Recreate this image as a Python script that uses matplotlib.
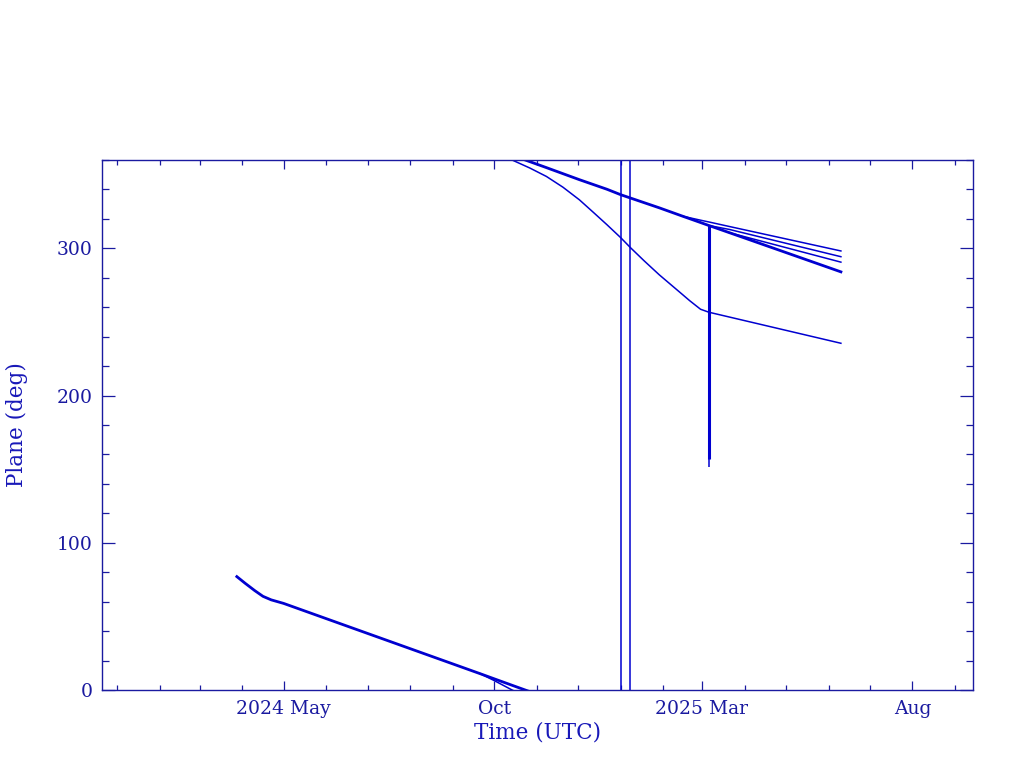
import matplotlib
matplotlib.use("Agg")
import matplotlib.pyplot as plt
import matplotlib.dates as mdates
import matplotlib.ticker as mticker
import numpy as np

# orbital plane of each object, unwrapped (values < 0 wrap to +360)
main_dates = ["2024-03-28", "2024-04-03", "2024-04-10", "2024-04-16", "2024-04-22",
              "2024-05-01", "2024-09-21", "2024-10-01", "2024-10-14", "2024-11-08",
              "2024-12-02", "2024-12-22", "2025-01-01", "2025-01-29", "2025-02-15",
              "2025-02-28", "2025-03-06", "2025-03-21", "2025-06-10"]
main_plane = [77.0, 72.5, 67.5, 63.6, 61.2, 58.8, 11.0, 7.6, 3.2, -5.2, -13.4,
              -19.9, -23.6, -32.5, -38.2, -42.5, -44.5, -49.4, -76.0]

s1_dates = ["2024-09-21", "2024-10-01", "2024-10-14", "2024-10-27", "2024-11-08",
            "2024-11-20", "2024-12-02", "2024-12-12", "2024-12-22", "2025-01-01",
            "2025-01-08", "2025-01-18", "2025-01-29", "2025-02-15", "2025-02-20",
            "2025-02-28", "2025-03-06", "2025-06-10"]
s1_plane = [11.0, 6.4, 0.0, -5.5, -11.2, -18.5, -27.1, -35.5, -44.0, -52.8,
            -59.5, -68.5, -78.0, -91.5, -95.5, -101.4, -103.4, -124.5]

a_dates = ["2025-02-15", "2025-02-28", "2025-03-06", "2025-03-21", "2025-06-10"]
a_plane = [-38.2, -40.9, -42.1, -45.2, -61.8]
b_dates = ["2025-03-06", "2025-03-21", "2025-06-10"]
b_plane = [-44.5, -47.2, -65.7]
c_dates = ["2025-03-21", "2025-06-10"]
c_plane = [-49.4, -69.4]

# single-epoch jumps
glitch_dates = ["2025-01-01", "2025-01-08"]
glitch_low = [0, 0]
glitch_high = [360, 360]
spike_dates = ["2025-03-06", "2025-03-06"]
spike_low = [157.0, 151.7]
spike_high = [315.5, 315.5]

major_ticks = ["2024-05-01", "2024-10-01", "2025-03-01", "2025-08-01"]
major_labels = ["2024 May", "Oct", "2025 Mar", "Aug"]
x_range = ["2023-12-21", "2025-09-14"]

AX = "#1a1aa0"
LINE = "#0000d0"
TXT = "#1818b8"

plt.rcParams["font.family"] = ["DejaVu Serif"]

fig = plt.figure(figsize=(10.24, 7.68), dpi=100)
ax = fig.add_axes([0.0996, 0.1016, 0.8506, 0.6901])

series = [(main_dates, main_plane, 2.0), (s1_dates, s1_plane, 1.1),
          (a_dates, a_plane, 1.1), (b_dates, b_plane, 1.1), (c_dates, c_plane, 1.1)]
for d, vals, lw in series:
    t = mdates.datestr2num(d)
    v = np.array(vals)
    ax.plot(t, v, color=LINE, lw=lw, solid_joinstyle="round")
    ax.plot(t, v + 360, color=LINE, lw=lw, solid_joinstyle="round")

ax.vlines(mdates.datestr2num(glitch_dates), glitch_low, glitch_high, color=LINE, lw=1.1)
sd = mdates.datestr2num(spike_dates)
ax.vlines(sd[0], spike_low[0], spike_high[0], color=LINE, lw=2.2)
ax.vlines(sd[1], spike_low[1], spike_high[1], color=LINE, lw=1.1)

ax.set_xlim(mdates.datestr2num(x_range))
ax.set_ylim(0, 360)

ax.xaxis.set_major_locator(mticker.FixedLocator(mdates.datestr2num(major_ticks)))
ax.xaxis.set_major_formatter(mticker.FixedFormatter(major_labels))
ax.xaxis.set_minor_locator(mdates.MonthLocator())
ax.yaxis.set_major_locator(mticker.MultipleLocator(100))
ax.yaxis.set_minor_locator(mticker.MultipleLocator(20))

for s in ax.spines.values():
    s.set_color(AX)
    s.set_linewidth(1.0)

ax.tick_params(axis="both", which="both", direction="in", top=True, right=True,
               colors=AX, width=0.9, labelsize=13.5, labelcolor=AX)
ax.tick_params(axis="x", which="major", length=6.7, pad=7)
ax.tick_params(axis="x", which="minor", length=3.4)
ax.tick_params(axis="y", which="major", length=9.1, pad=7)
ax.tick_params(axis="y", which="minor", length=4.8)

ax.set_xlabel("Time (UTC)", fontsize=15.5, color=TXT, labelpad=3)
ax.set_ylabel("Plane (deg)", fontsize=15.5, color=TXT, labelpad=20)

fig.savefig("out.png", dpi=100)
